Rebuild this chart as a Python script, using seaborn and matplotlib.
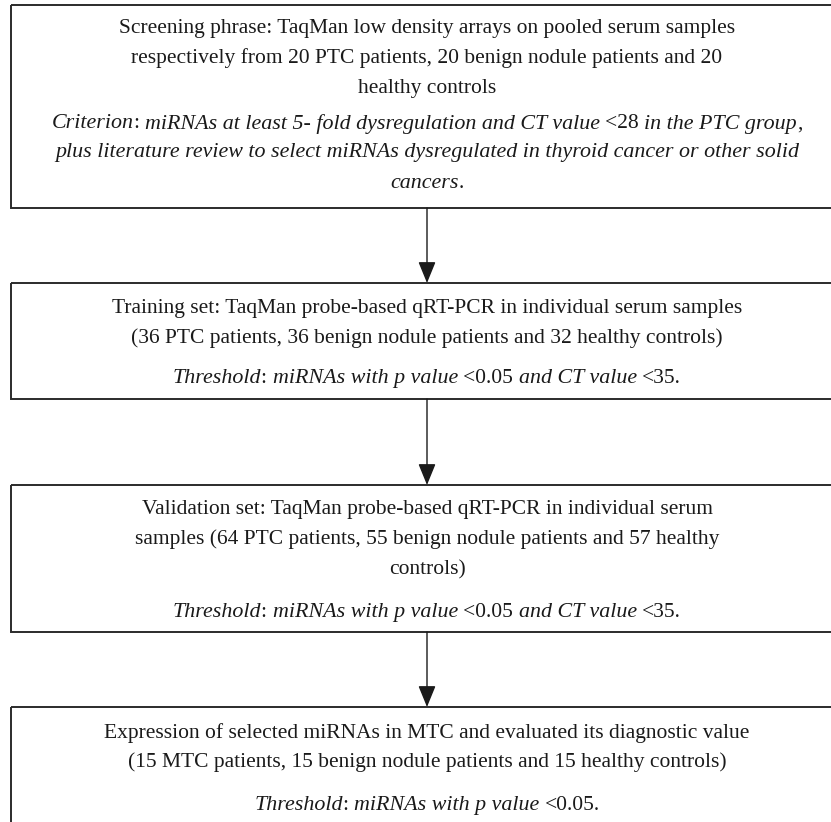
import matplotlib
matplotlib.use("Agg")
import matplotlib.pyplot as plt
import seaborn as sns
from matplotlib.patches import Rectangle

# boxes of the flow chart (pixel rows, top -> bottom)
box_tops = [5, 283, 485, 707]
box_bottoms = [208, 399, 632, 845]

# roman lines inside each box
main_lines = [
    ["Screening phrase: TaqMan low density arrays on pooled serum samples",
     "respectively from 20 PTC patients, 20 benign nodule patients and 20",
     "healthy controls"],
    ["Training set: TaqMan probe-based qRT-PCR in individual serum samples",
     "(36 PTC patients, 36 benign nodule patients and 32 healthy controls)"],
    ["Validation set: TaqMan probe-based qRT-PCR in individual serum",
     "samples (64 PTC patients, 55 benign nodule patients and 57 healthy",
     "controls)"],
    ["Expression of selected miRNAs in MTC and evaluated its diagnostic value",
     "(15 MTC patients, 15 benign nodule patients and 15 healthy controls)"],
]

# criterion lines: list of segments (text, italic?)
crit_lines = [
    [[("Criterion", True), (": ", False), ("miRNAs at least 5- fold dysregulation and CT value ", True),
      ("<28 ", False), ("in the PTC group", True), (",", False)],
     [("plus literature review to select miRNAs dysregulated in thyroid cancer or other solid", True)],
     [("cancers", True), (".", False)]],
    [[("Threshold", True), (": ", False), ("miRNAs with p value ", True), ("<0.05 ", False),
      ("and CT value ", True), ("<35.", False)]],
    [[("Threshold", True), (": ", False), ("miRNAs with p value ", True), ("<0.05 ", False),
      ("and CT value ", True), ("<35.", False)]],
    [[("Threshold", True), (": ", False), ("miRNAs with p value ", True), ("<0.05.", False)]],
]

main_y = [[28, 58, 88], [308, 338], [509, 539, 570], [733, 762]]
crit_y = [[124, 153, 183], [378], [612], [805]]

sns.set_theme(style="white")
plt.rcParams["font.family"] = ["Liberation Serif", "DejaVu Serif"]

W, H = 831, 822
fig = plt.figure(figsize=(W / 100, H / 100), dpi=100)
ax = fig.add_axes([0, 0, 1, 1])
ax.set_xlim(0, W)
ax.set_ylim(H, 0)
ax.axis("off")

x_left, x_right, x_mid = 11, 843, 427
fs = 15.5
fs_it = 15.8
renderer = fig.canvas.get_renderer()

for top, bot in zip(box_tops, box_bottoms):
    ax.add_patch(Rectangle((x_left, top), x_right - x_left, bot - top,
                           fill=False, edgecolor="#2b2b2b", linewidth=1.4, clip_on=False))

for lines, ys in zip(main_lines, main_y):
    for s, y in zip(lines, ys):
        ax.text(x_mid, y, s, ha="center", va="center", fontsize=fs, color="#1a1a1a")


def seg_line(segs, y):
    items = []
    total = 0
    for s, it in segs:
        t = ax.text(0, y, s, ha="left", va="center", color="#1a1a1a",
                    fontsize=fs_it if it else fs,
                    fontstyle="italic" if it else "normal")
        w = t.get_window_extent(renderer).width
        items.append((t, w))
        total += w
    x = x_mid - total / 2
    for t, w in items:
        t.set_x(x)
        x += w


for lines, ys in zip(crit_lines, crit_y):
    for segs, y in zip(lines, ys):
        seg_line(segs, y)

# arrows between boxes
for i in range(len(box_tops) - 1):
    ax.annotate("", xy=(x_mid, box_tops[i + 1]), xytext=(x_mid, box_bottoms[i]),
                arrowprops=dict(arrowstyle="-|>,head_length=1.1,head_width=0.45",
                                color="#1a1a1a", lw=1.0, shrinkA=0, shrinkB=0))

fig.savefig("out.png", dpi=100, facecolor="white")
